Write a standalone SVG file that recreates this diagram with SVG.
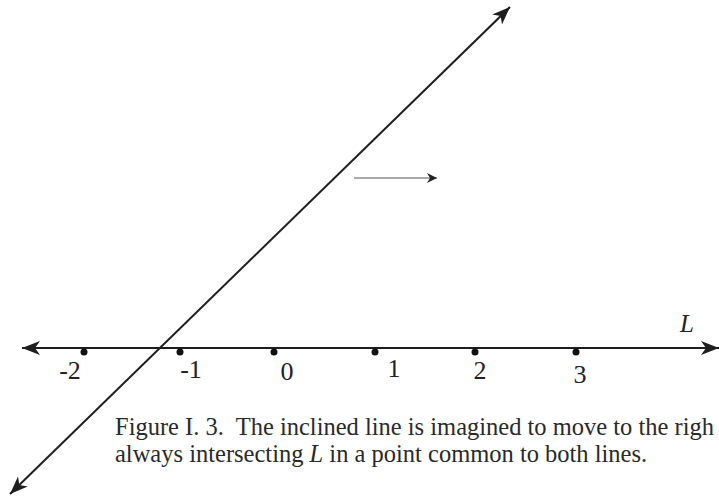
<svg xmlns="http://www.w3.org/2000/svg" width="719" height="497" viewBox="0 0 719 497">
<style>
.ln{stroke:#1e1e1e;stroke-width:2;fill:none}
.thin{stroke:#555;stroke-width:1.2;fill:none}
.dot{fill:#111}
.num{font-family:"Liberation Serif","Times New Roman",serif;font-size:26px;fill:#222;text-anchor:middle}
.cap{font-family:"Liberation Serif","Times New Roman",serif;font-size:24.5px;fill:#2a2a2a;white-space:pre}
.lab{font-family:"Liberation Serif","Times New Roman",serif;font-size:25px;font-style:italic;fill:#222}
</style>
<defs>
<marker id="ah" markerUnits="userSpaceOnUse" markerWidth="24" markerHeight="18" refX="18" refY="7" orient="auto-start-reverse" viewBox="0 0 24 18">
<path d="M18,7 L0,0 L5,7 L0,14 Z" fill="#1e1e1e"/>
</marker>
<marker id="ahs" markerUnits="userSpaceOnUse" markerWidth="14" markerHeight="12" refX="10" refY="5" orient="auto" viewBox="0 0 14 12">
<path d="M10,5 L0,0 L3,5 L0,10 Z" fill="#222"/>
</marker>
</defs>
<g id="connectors">
<line id="lineL" class="ln" x1="22" y1="348" x2="719" y2="348" marker-start="url(#ah)" marker-end="url(#ah)"/>
<line id="inclined" class="ln" x1="10" y1="494" x2="510" y2="7" marker-start="url(#ah)" marker-end="url(#ah)"/>
<line id="move" class="thin" x1="354" y1="178" x2="437" y2="178" marker-end="url(#ahs)"/>
</g>
<g id="pt-m2"><circle class="dot" cx="84" cy="352" r="3.5"/><text class="num" x="70" y="379">-2</text></g>
<g id="pt-m1"><circle class="dot" cx="180" cy="352" r="3.5"/><text class="num" x="191" y="378">-1</text></g>
<g id="pt-0"><circle class="dot" cx="274" cy="352" r="3.5"/><text class="num" x="287" y="380">0</text></g>
<g id="pt-1"><circle class="dot" cx="375" cy="352" r="3.5"/><text class="num" x="394" y="377">1</text></g>
<g id="pt-2"><circle class="dot" cx="475" cy="352" r="3.5"/><text class="num" x="480" y="379">2</text></g>
<g id="pt-3"><circle class="dot" cx="576" cy="352" r="3.5"/><text class="num" x="580" y="383">3</text></g>
<g id="label-L"><text class="lab" x="680" y="332">L</text></g>
<g id="caption">
<text class="cap" x="115" y="435">Figure I. 3.  The inclined line is imagined to move to the righ</text>
<text class="cap" x="115" y="462">always intersecting <tspan font-style="italic">L</tspan> in a point common to both lines.</text>
</g>
</svg>
